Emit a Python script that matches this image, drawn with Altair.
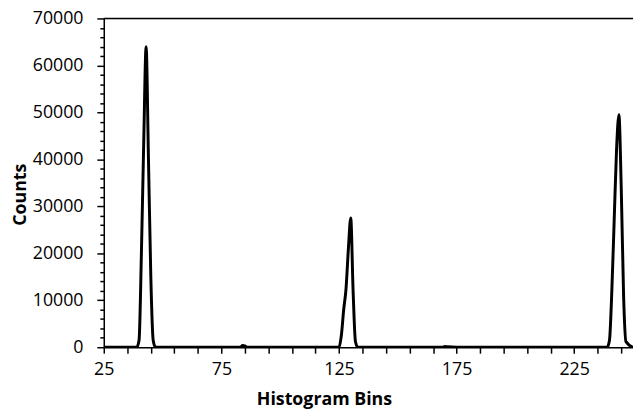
import altair as alt
import pandas as pd

# Key points of the histogram (bins between zero anchors are zero)
bins = [25, 39, 40, 41, 42, 43, 44, 45, 46, 47,
        80, 83, 84, 85, 86, 89,
        124, 125, 126, 127, 128, 129, 130, 131, 132, 133,
        165, 169, 170, 171, 175,
        238, 239, 240, 241, 242, 243, 244, 245, 246, 247, 250]
counts = [0, 0, 1500, 20000, 44000, 64000, 40000, 15000, 1500, 0,
          0, 0, 350, 300, 0, 0,
          0, 0, 2500, 8000, 12500, 21000, 27500, 12000, 1200, 0,
          0, 0, 150, 100, 0,
          0, 0, 1500, 12000, 27000, 42000, 49500, 34000, 11000, 1200, 0]

x_ticks = list(range(25, 250, 10))
y_ticks = list(range(0, 70001, 2000))

df = pd.DataFrame({"bin": bins, "count": counts})
top = pd.DataFrame({"x0": [25], "x1": [250], "y": [70000]})

FONT = "Open Sans"

x_scale = alt.Scale(domain=[25, 250], nice=False, zero=False)
y_scale = alt.Scale(domain=[0, 70000], nice=False)

x_major = "(datum.value - 25) % 50 == 0"
y_major = "datum.value % 10000 == 0"

line = alt.Chart(df).mark_line(
    color="black", strokeWidth=3, interpolate="monotone", clip=True
).encode(
    x=alt.X("bin:Q", scale=x_scale,
            axis=alt.Axis(
                title="Histogram Bins", values=x_ticks, tickCount=1000,
                labelExpr=x_major + " ? datum.label : ''",
                format="d", labelOverlap=False, labelFlush=False,
                grid=False, domainColor="black", domainWidth=1.5,
                tickColor="black", tickWidth=1.5, tickSize=6,
                labelFont=FONT, labelColor="black",
                labelFontSize={"condition": {"test": x_major, "value": 18}, "value": 0},
                labelPadding=8,
                titleFont=FONT, titleFontSize=18, titleFontWeight="bold",
                titleColor="black", titleX=223, titleY=58,
                titleBaseline="alphabetic", titleAlign="center")),
    y=alt.Y("count:Q", scale=y_scale,
            axis=alt.Axis(
                title="Counts", values=y_ticks, tickCount=1000,
                labelExpr=y_major + " ? datum.label : ''",
                format="d", labelOverlap=False, labelFlush=False,
                grid=False, domainColor="black", domainWidth=1.5,
                tickColor="black", tickWidth=1.5,
                tickSize={"condition": {"test": y_major, "value": 7}, "value": 4},
                labelFont=FONT, labelColor="black",
                labelFontSize={"condition": {"test": y_major, "value": 18}, "value": 0},
                labelPadding=14,
                titleFont=FONT, titleFontSize=18, titleFontWeight="bold",
                titleColor="black", titleX=-79, titleY=178, titleAngle=270,
                titleBaseline="alphabetic", titleAlign="center")),
)

border = alt.Chart(top).mark_rule(color="black", strokeWidth=1.5).encode(
    x=alt.X("x0:Q", scale=x_scale),
    x2="x1:Q",
    y=alt.Y("y:Q", scale=y_scale),
)

chart = alt.layer(line, border).properties(
    width=536, height=333,
    autosize=alt.AutoSizeParams(type="none"),
    padding={"left": 97, "top": 8, "right": 0, "bottom": 62},
).configure_view(stroke=None).configure(background="white")

chart.save("out.html", embed_options={"renderer": "svg", "actions": False})
